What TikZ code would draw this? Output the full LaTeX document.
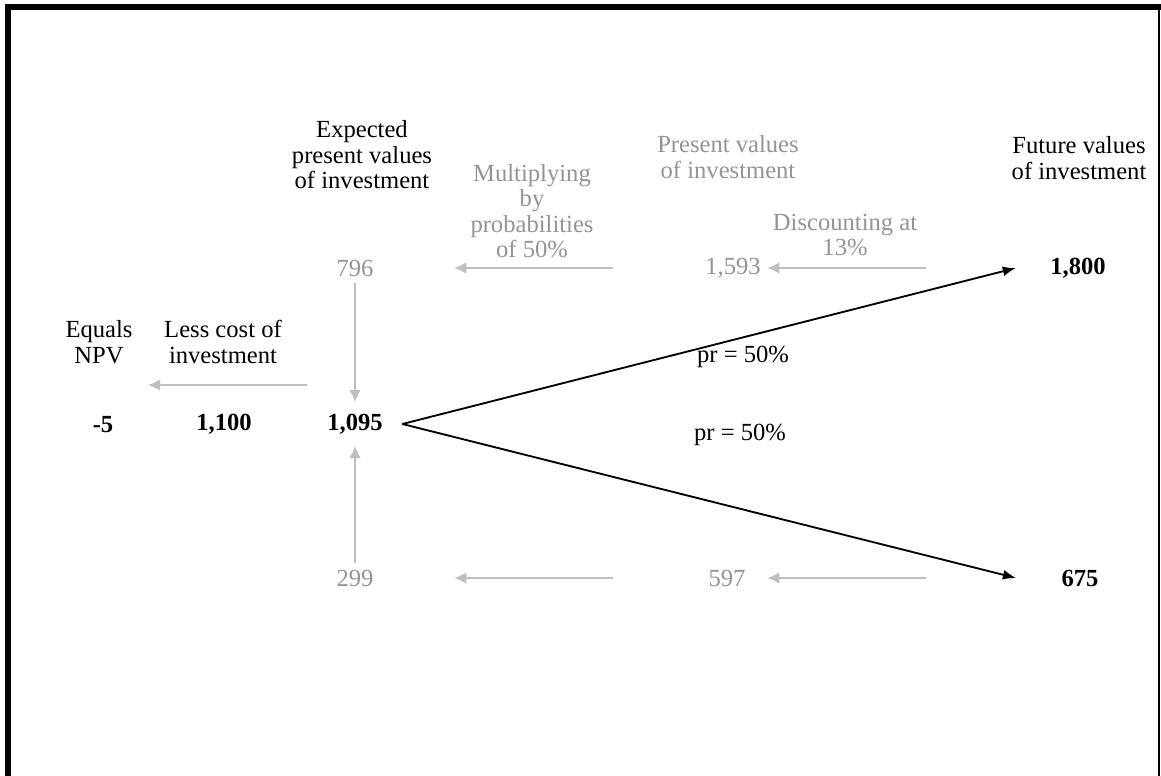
\documentclass[tikz,border=0pt]{standalone}
\usepackage{fontspec}
\setmainfont{Liberation Serif}
\usepackage{xcolor}
\usepackage{tikz}
\usetikzlibrary{arrows.meta,positioning}

\begin{document}
\begin{tikzpicture}[
    x=0.019cm, y=-0.019cm,
    lbl/.style={align=center, font=\fontsize{13.3}{13.8}\selectfont},
    glbl/.style={lbl, text=black!42},
    val/.style={lbl, font=\fontsize{13.3}{13.8}\selectfont\bfseries},
    garrow/.style={-{Latex[length=0.23cm,width=0.22cm]}, draw=black!25, line width=1.1pt},
    barrow/.style={-{Latex[length=0.25cm,width=0.19cm]}, line width=1pt}
  ]
    % Frame
    \useasboundingbox (0,0) rectangle (1161,776);
    \fill (5,4) rectangle (11,776);
    \fill (5,4) rectangle (1161,10);
    \fill (1158,10) rectangle (1160,776);

    % Headings
    \node[lbl] (expv) at (362,155) {Expected\\present values\\of investment};
    \node[glbl] (mult) at (532,211) {Multiplying\\by\\probabilities\\of 50\%};
    \node[glbl] (pv) at (728,157) {Present values\\of investment};
    \node[glbl] (disc) at (845,235) {Discounting at\\13\%};
    \node[lbl] (fv) at (1079,158) {Future values\\of investment};
    \node[lbl] (eq) at (99,342) {Equals\\NPV};
    \node[lbl] (less) at (223,342) {Less cost of\\investment};

    % Upper branch
    \node[glbl] (n796) at (355,268) {796};
    \node[glbl] (n1593) at (733,268) {1,593};
    \node[val] (n1800) at (1078,268) {1,800};

    % Middle row
    \node[val] (npv) at (103,425) {-5};
    \node[val] (cost) at (224,424) {1,100};
    \node[val] (ev) at (355,424) {1,095};
    \node[lbl] (pr1) at (743,357) {pr = 50\%};
    \node[lbl] (pr2) at (740,435) {pr = 50\%};

    % Lower branch
    \node[glbl] (n299) at (355,578) {299};
    \node[glbl] (n597) at (727,578) {597};
    \node[val] (n675) at (1080,578) {675};

    % Arrows
    \draw[barrow] ([xshift=0.25cm]ev.east) -- ([xshift=-0.53cm]n1800.west);
    \draw[barrow] ([xshift=0.25cm]ev.east) -- ([xshift=-0.74cm]n675.west);
    \draw[garrow] ([xshift=-2.24cm]n1800.west) -- (n1593.east);
    \draw[garrow] ([xshift=-1.63cm]n1593.west) -- ([xshift=1.41cm]n796.east);
    \draw[garrow] ([xshift=-2.45cm]n675.west) -- ([xshift=0.29cm]n597.east);
    \draw[garrow] ([xshift=-1.69cm]n597.west) -- ([xshift=1.41cm]n299.east);
    \draw[garrow, shorten >=0.1cm] (n796.south) -- (ev.north);
    \draw[garrow, shorten >=0.1cm] (n299.north) -- (ev.south);
    \coordinate (costR) at (307,385);
    \coordinate (costL) at (148,385);
    \draw[garrow] (costR) -- (costL);
  \end{tikzpicture}
\end{document}
